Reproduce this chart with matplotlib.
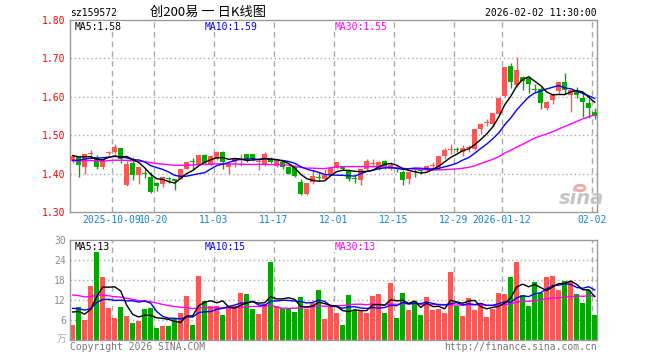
import numpy as np
import pandas as pd
import matplotlib
matplotlib.use("Agg")
import matplotlib.pyplot as plt

# ── data ──────────────────────────────────────────────────────────────────────
OPEN  = [1.432, 1.443, 1.417, 1.450, 1.444, 1.417, 1.453, 1.455, 1.466, 1.370,
         1.427, 1.397, 1.402, 1.390, 1.376, 1.374, 1.388, 1.385, 1.387, 1.413,
         1.431, 1.426, 1.448, 1.424, 1.437, 1.457, 1.416, 1.430, 1.436, 1.450,
         1.451, 1.430, 1.424, 1.439, 1.420, 1.430, 1.416, 1.417, 1.378, 1.348,
         1.378, 1.390, 1.387, 1.399, 1.415, 1.416, 1.409, 1.388, 1.383, 1.411,
         1.424, 1.413, 1.433, 1.411, 1.412, 1.404, 1.385, 1.405, 1.408, 1.409,
         1.419, 1.417, 1.446, 1.462, 1.464, 1.457, 1.467, 1.464, 1.516, 1.532,
         1.529, 1.555, 1.602, 1.680, 1.630, 1.651, 1.648, 1.621, 1.620, 1.571,
         1.591, 1.616, 1.639, 1.604, 1.612, 1.597, 1.584, 1.561]
HIGH  = [1.447, 1.444, 1.450, 1.461, 1.448, 1.441, 1.460, 1.476, 1.466, 1.433,
         1.444, 1.417, 1.412, 1.404, 1.378, 1.390, 1.391, 1.387, 1.413, 1.434,
         1.441, 1.448, 1.450, 1.448, 1.458, 1.458, 1.426, 1.439, 1.451, 1.450,
         1.451, 1.439, 1.457, 1.444, 1.437, 1.434, 1.420, 1.422, 1.387, 1.376,
         1.410, 1.403, 1.411, 1.417, 1.430, 1.418, 1.411, 1.397, 1.411, 1.437,
         1.437, 1.433, 1.436, 1.430, 1.420, 1.409, 1.404, 1.415, 1.411, 1.422,
         1.430, 1.445, 1.467, 1.476, 1.470, 1.474, 1.474, 1.516, 1.533, 1.542,
         1.558, 1.597, 1.678, 1.689, 1.704, 1.654, 1.652, 1.633, 1.626, 1.589,
         1.610, 1.639, 1.663, 1.617, 1.626, 1.613, 1.594, 1.570]
LOW   = [1.428, 1.390, 1.398, 1.441, 1.411, 1.411, 1.448, 1.450, 1.428, 1.368,
         1.384, 1.373, 1.389, 1.350, 1.355, 1.364, 1.375, 1.357, 1.385, 1.411,
         1.409, 1.424, 1.424, 1.421, 1.435, 1.411, 1.399, 1.417, 1.420, 1.429,
         1.433, 1.409, 1.420, 1.427, 1.417, 1.412, 1.398, 1.391, 1.344, 1.344,
         1.374, 1.382, 1.387, 1.397, 1.413, 1.410, 1.381, 1.376, 1.370, 1.409,
         1.416, 1.410, 1.411, 1.409, 1.405, 1.371, 1.374, 1.390, 1.398, 1.406,
         1.411, 1.413, 1.437, 1.450, 1.456, 1.446, 1.457, 1.461, 1.504, 1.523,
         1.524, 1.553, 1.600, 1.624, 1.626, 1.617, 1.611, 1.611, 1.567, 1.565,
         1.581, 1.604, 1.606, 1.561, 1.596, 1.548, 1.545, 1.542]
CLOSE = [1.445, 1.423, 1.450, 1.452, 1.417, 1.437, 1.455, 1.469, 1.437, 1.425,
         1.397, 1.417, 1.400, 1.352, 1.367, 1.390, 1.387, 1.381, 1.413, 1.430,
         1.429, 1.448, 1.428, 1.445, 1.457, 1.430, 1.426, 1.439, 1.437, 1.439,
         1.437, 1.431, 1.451, 1.430, 1.434, 1.417, 1.400, 1.393, 1.348, 1.376,
         1.395, 1.389, 1.397, 1.415, 1.430, 1.412, 1.387, 1.386, 1.411, 1.433,
         1.426, 1.430, 1.420, 1.422, 1.411, 1.384, 1.404, 1.403, 1.406, 1.420,
         1.421, 1.445, 1.461, 1.464, 1.461, 1.467, 1.469, 1.516, 1.530, 1.534,
         1.558, 1.597, 1.677, 1.639, 1.670, 1.642, 1.633, 1.619, 1.583, 1.586,
         1.604, 1.639, 1.617, 1.617, 1.604, 1.587, 1.570, 1.550]
VOLUME = [4.5, 9.8, 6.0, 16.2, 28.5, 18.9, 9.6, 6.6, 9.9, 7.2,
          5.1, 5.7, 9.3, 9.6, 3.6, 4.2, 4.2, 6.3, 8.1, 13.2,
          4.5, 19.2, 11.7, 10.2, 10.2, 7.5, 9.9, 10.2, 14.2, 13.8,
          9.3, 7.8, 10.8, 23.4, 10.2, 9.6, 9.3, 8.4, 12.9, 9.3,
          11.1, 15.0, 6.3, 10.2, 8.1, 4.5, 13.5, 9.0, 9.0, 8.1,
          13.2, 13.8, 8.1, 17.1, 6.6, 14.1, 9.0, 11.7, 7.5, 12.9,
          9.0, 9.3, 8.1, 20.4, 10.2, 7.2, 12.6, 9.0, 11.1, 6.9,
          9.3, 14.1, 13.8, 18.9, 23.4, 13.5, 10.2, 17.4, 14.1, 18.9,
          19.2, 15.0, 17.7, 17.7, 13.8, 11.1, 15.0, 7.5]

# sessions before the visible window (estimated, only feed the moving averages)
PRE_CLOSE  = [1.44, 1.43, 1.44, 1.45, 1.44, 1.43, 1.43, 1.44, 1.44, 1.43,
              1.44, 1.44, 1.43, 1.43, 1.44, 1.43, 1.43, 1.42, 1.42, 1.41,
              1.42, 1.42, 1.43, 1.42, 1.42, 1.44, 1.45, 1.45, 1.45]
PRE_VOLUME = [16, 17, 14, 15, 18, 16, 15, 14, 17, 16,
              15, 14, 16, 15, 17, 15, 14, 16, 15, 15,
              11, 10, 12, 10, 10, 9, 10, 9, 9.5]

DATE_IDX    = [7, 14, 24, 34, 44, 54, 64, 72, 87]
DATE_LABELS = ["2025-10-09", "10-20", "11-03", "11-17", "12-01",
               "12-15", "12-29", "2026-01-12", "02-02"]
PRICE_TICKS = [1.30, 1.40, 1.50, 1.60, 1.70, 1.80]
VOL_TICKS   = [6, 12, 18, 24, 30]

RED, GREEN = "#ff5555", "#00a800"
MA_COLORS  = {5: "black", 10: "#0000ff", 30: "#ff00ff"}
GRID = "#aaaaaa"
MONO = "DejaVu Sans Mono"

# ── moving averages ───────────────────────────────────────────────────────────
n = len(CLOSE)
close_all = pd.Series(PRE_CLOSE + CLOSE)
vol_all = pd.Series(PRE_VOLUME + VOLUME)
price_ma = {w: close_all.rolling(w).mean().to_numpy()[-n:] for w in (5, 10, 30)}
vol_ma = {w: vol_all.rolling(w).mean().to_numpy()[-n:] for w in (5, 10, 30)}

# ── figure ────────────────────────────────────────────────────────────────────
W, H = 660, 360
fig = plt.figure(figsize=(W / 100, H / 100), dpi=100)
ax_p = fig.add_axes([70 / W, 1 - 212 / H, 527 / W, 192 / H])
ax_v = fig.add_axes([70 / W, 1 - 340 / H, 527 / W, 100 / H])

x = np.arange(n)
o, h, l, c = map(np.array, (OPEN, HIGH, LOW, CLOSE))
colors = [RED if ci >= oi else GREEN for oi, ci in zip(o, c)]
xmin = -0.45
xmax = xmin + 527 / 6

# candles
ax_p.vlines(x, l, h, colors=colors, linewidth=1, zorder=2)
body = np.maximum(np.abs(c - o), 0.0026)
ax_p.bar(x, body, bottom=np.minimum(o, c), width=0.8, color=colors,
         linewidth=0, zorder=3)
for w in (30, 10, 5):
    ax_p.plot(x, price_ma[w], color=MA_COLORS[w], linewidth=1, zorder=4)

# volume
ax_v.bar(x, VOLUME, width=0.8, color=colors, linewidth=0, zorder=2)
for w in (30, 10, 5):
    ax_v.plot(x, vol_ma[w], color=MA_COLORS[w], linewidth=1, zorder=3)

for ax in (ax_p, ax_v):
    ax.set_xlim(xmin, xmax)
    ax.set_xticks([])
    for s in ax.spines.values():
        s.set_color("#999999")
        s.set_linewidth(1)
    for i in DATE_IDX:
        ax.axvline(i - 0.45, color=GRID, linewidth=1, linestyle=(0, (4, 3)), zorder=1)
    ax.tick_params(axis="y", length=0, pad=3)

ax_p.set_ylim(1.30, 1.80)
ax_p.set_yticks(PRICE_TICKS)
ax_p.set_yticklabels([f"{t:.2f}" for t in PRICE_TICKS], color="red",
                     fontsize=7, family=MONO)
for t in PRICE_TICKS[1:-1]:
    ax_p.axhline(t, color=GRID, linewidth=1, linestyle=(0, (1, 2)), zorder=1)

ax_v.set_ylim(0, 30)
ax_v.set_yticks(VOL_TICKS)
ax_v.set_yticklabels([str(t) for t in VOL_TICKS], color="#8c8c8c",
                     fontsize=7, family=MONO)
for t in VOL_TICKS[:-1]:
    ax_v.axhline(t, color=GRID, linewidth=1, linestyle=(0, (1, 2)), zorder=1)

# date labels
for i, lab in zip(DATE_IDX, DATE_LABELS):
    fig.text((70 + (i - 0.45 - xmin) * 6) / W, 1 - 220 / H, lab, ha="center",
             va="center", color="#1a80d0", fontsize=7, family=MONO)

# ── texts ─────────────────────────────────────────────────────────────────────
def ftext(px, py, s, **kw):
    kw.setdefault("family", MONO)
    kw.setdefault("fontsize", 7)
    kw.setdefault("va", "center")
    return fig.text(px / W, 1 - py / H, s, **kw)

ftext(70, 12.5, "sz159572")
ftext(150, 12, "创200易 一 日K线图", family=["Noto Sans CJK SC", "DejaVu Sans"],
      fontsize=9.5)
ftext(597, 12.5, "2026-02-02 11:30:00", ha="right")

box = dict(facecolor="white", edgecolor="none", pad=0.5)
ftext(75, 26.5, "MA5:1.58", color="black", bbox=box)
ftext(205, 26.5, "MA10:1.59", color="#0000ff", bbox=box)
ftext(335, 26.5, "MA30:1.55", color="#ff00ff", bbox=box)
ftext(75, 246.5, "MA5:13", color="black", bbox=box)
ftext(205, 246.5, "MA10:15", color="#0000ff", bbox=box)
ftext(335, 246.5, "MA30:13", color="#ff00ff", bbox=box)

ftext(66, 339, "万", ha="right", color="#aaaaaa",
      family=["Noto Sans CJK SC", "DejaVu Sans"], fontsize=7)
ftext(70, 346.5, "Copyright 2026 SINA.COM", color="#777777")
ftext(597, 346.5, "http://finance.sina.com.cn", ha="right", color="#777777")

# sina watermark
ftext(581, 199, "sina", ha="center", color="#c4c4c4", family="DejaVu Sans",
      fontsize=14, fontweight="bold", style="italic")
fig.patches.append(plt.Circle((580 / W, 1 - 188 / H), 5 / W, transform=fig.transFigure,
                              facecolor="none", edgecolor="#f2a8a8", linewidth=2))

fig.savefig("out.png", dpi=100)
